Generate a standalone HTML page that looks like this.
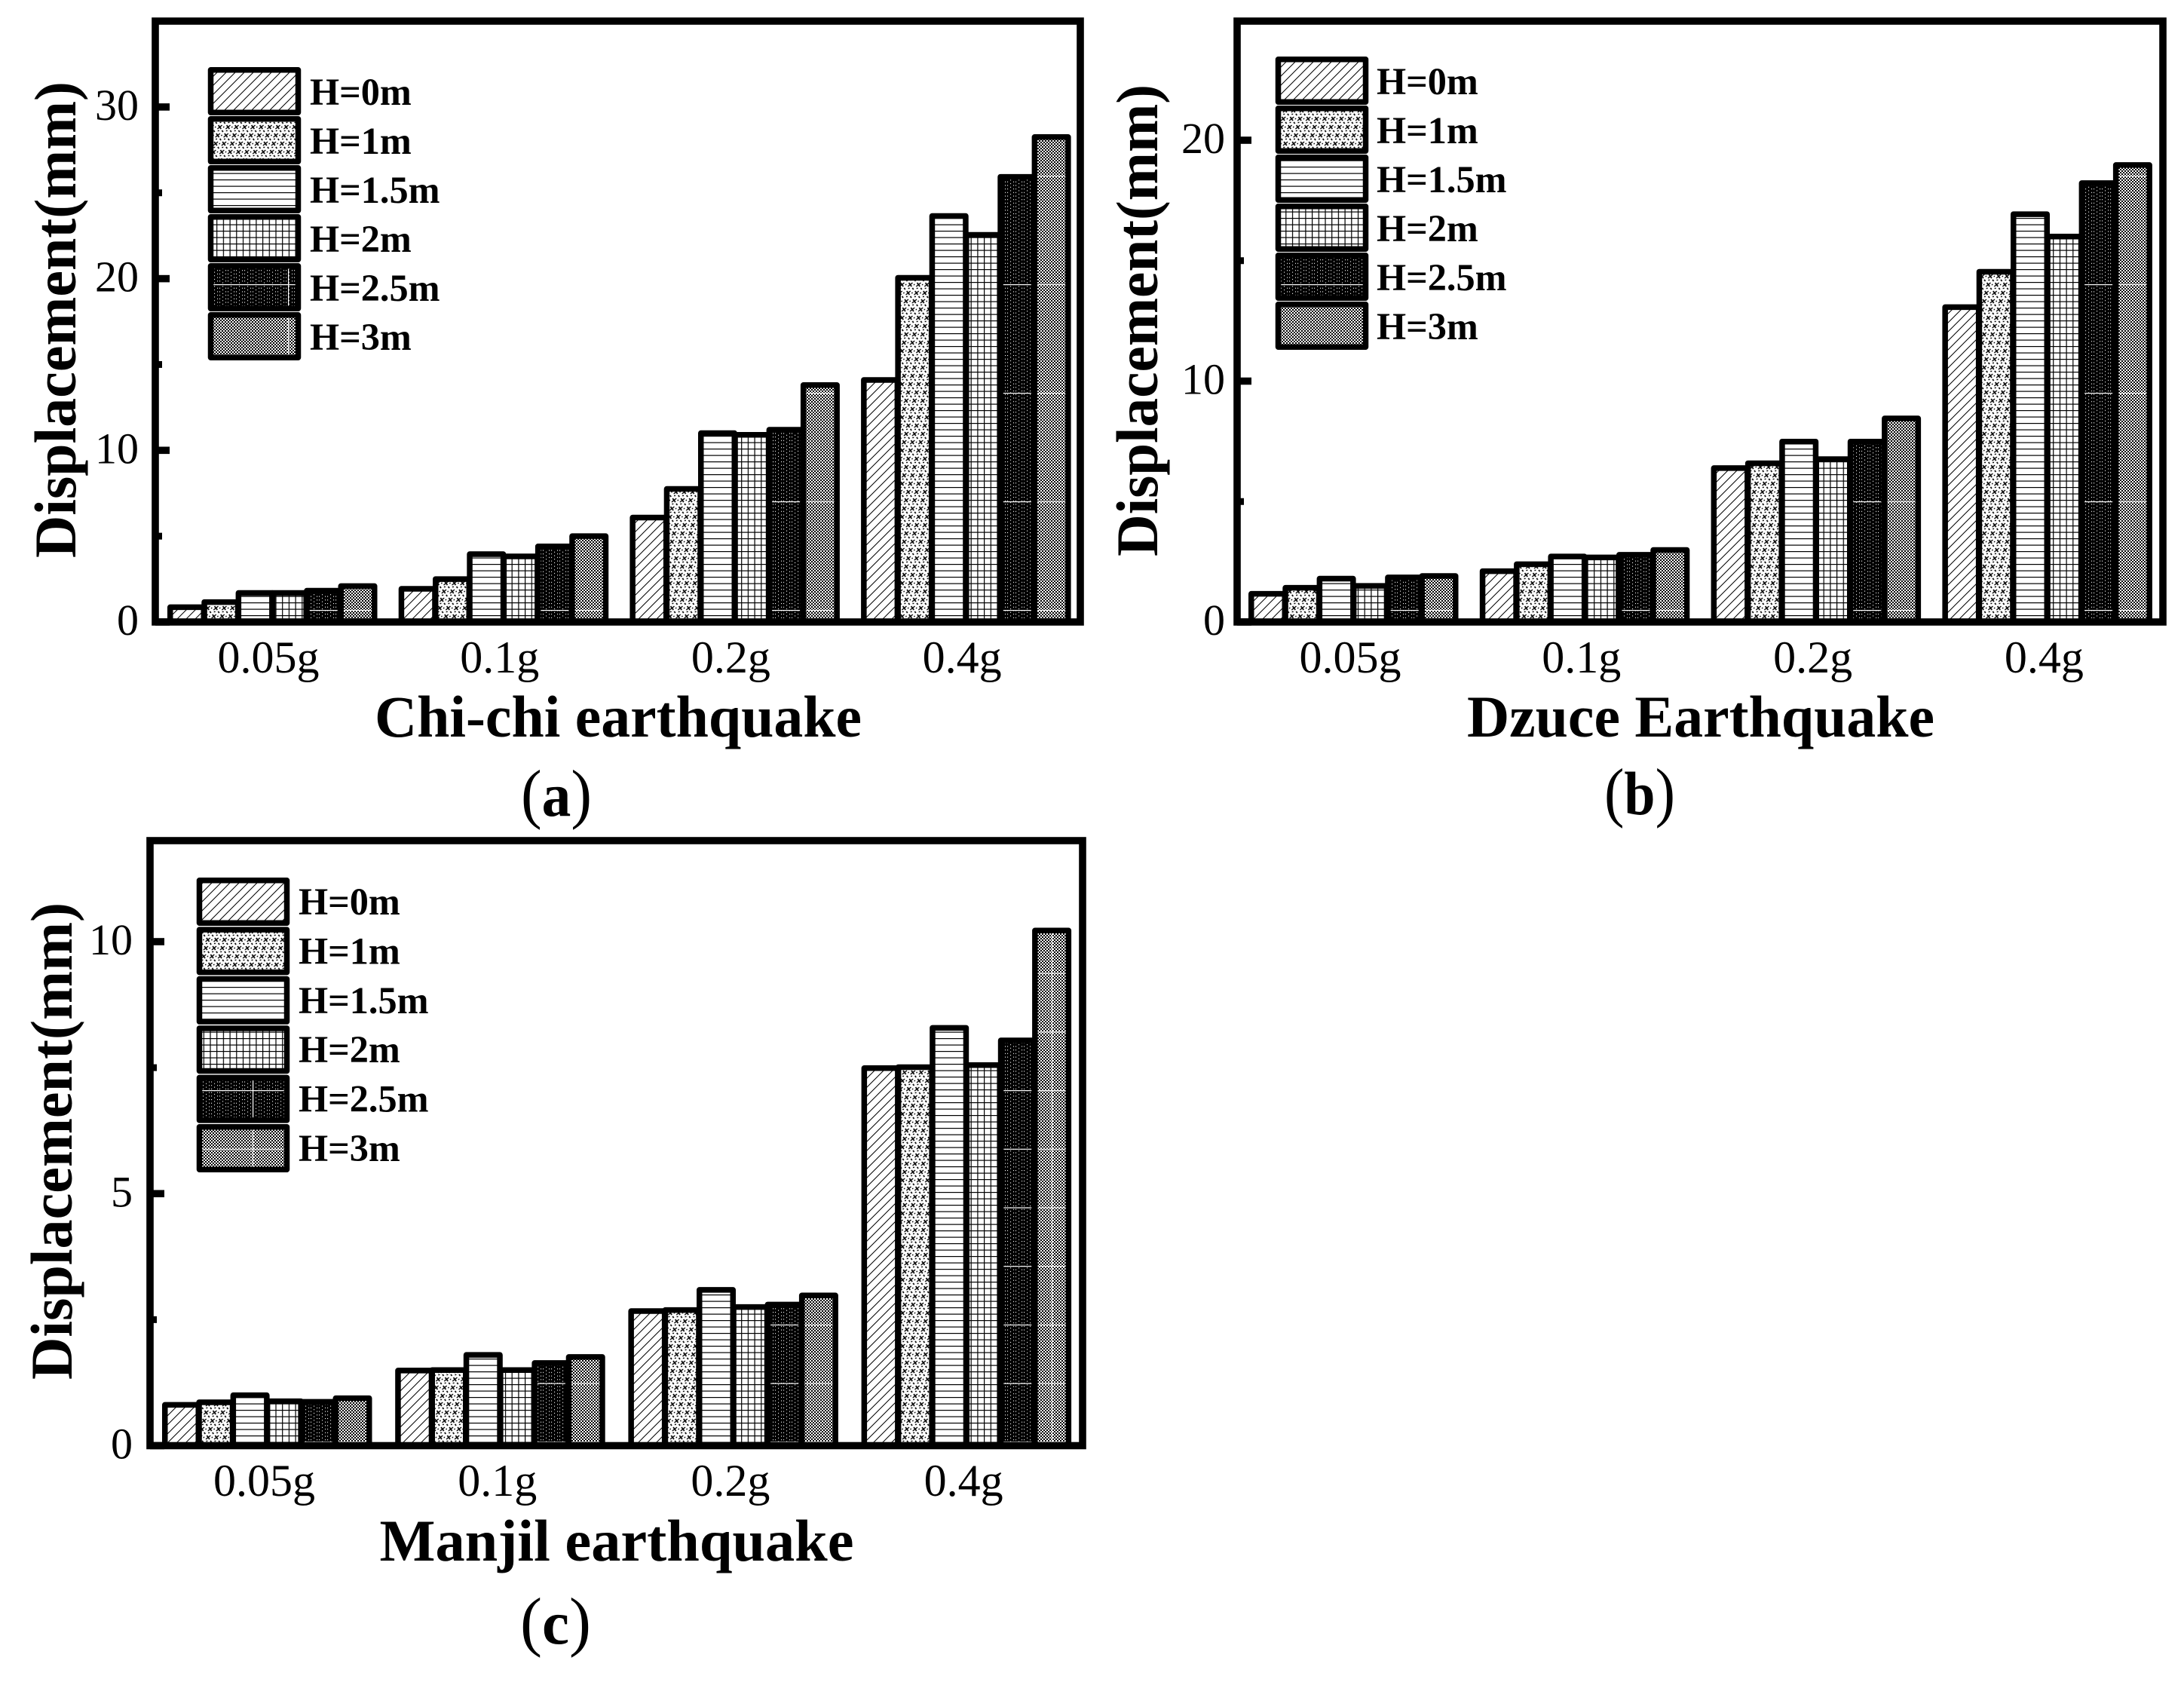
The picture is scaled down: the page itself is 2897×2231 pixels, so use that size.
<!DOCTYPE html>
<html lang="en">
<head>
<meta charset="utf-8">
<title>Displacement under earthquakes</title>
<style>
html,body{margin:0;padding:0;background:#fff;}
svg{display:block;font-family:"Liberation Serif",serif;}
</style>
</head>
<body>
<svg id="fig" xmlns="http://www.w3.org/2000/svg" width="2897" height="2231" viewBox="0 0 2897 2231">
<rect x="0" y="0" width="2897" height="2231" fill="#fff"/>
<defs>
<pattern id="p-diag" patternUnits="userSpaceOnUse" width="12" height="12"><path d="M-3 3L3 -3M0 12L12 0M9 15L15 9" stroke="#000" stroke-width="1" fill="none"/></pattern>
<pattern id="p-dots" patternUnits="userSpaceOnUse" width="11" height="11" patternTransform="skewX(-14)"><rect width="11" height="11" fill="#fff"/><path d="M1 1L6 6M6 1L1 6M2 8.500L4 8.500M8 3.500L9.500 3.500M7.500 8L9.500 10" stroke="#000" stroke-width="1.500" fill="none"/></pattern>
<pattern id="p-hlines" patternUnits="userSpaceOnUse" width="10" height="8.5"><rect width="10" height="8.5" fill="#fff"/><rect y="0" width="10" height="1.2" fill="#000"/></pattern>
<pattern id="p-grid" patternUnits="userSpaceOnUse" width="8.7" height="8.5"><rect width="8.7" height="8.5" fill="#fff"/><rect y="0" width="8.7" height="1.2" fill="#000"/><rect x="0" width="1.2" height="8.5" fill="#000"/></pattern>
<pattern id="p-darkdots" patternUnits="userSpaceOnUse" width="11" height="9.4"><rect width="11" height="9.4" fill="#000"/><rect x="2" y="1" width="1.1" height="1.1" fill="#fff"/><rect x="2" y="5.7" width="1.1" height="1.1" fill="#fff"/><rect x="5" y="1" width="1.1" height="1.1" fill="#fff"/><rect x="5" y="5.7" width="1.1" height="1.1" fill="#fff"/><rect x="9" y="3.350" width="1.1" height="1.1" fill="#fff"/><rect x="9" y="8" width="1.1" height="1.1" fill="#fff"/></pattern>
<pattern id="p-checker" patternUnits="userSpaceOnUse" width="4" height="4"><rect width="4" height="4" fill="#fff"/><rect width="2" height="2" fill="#000"/><rect x="2" y="2" width="2" height="2" fill="#000"/></pattern>
<pattern id="w-a" patternUnits="userSpaceOnUse" x="382" y="89" width="3000" height="144"><rect x="0" y="0" width="3000" height="1.2" fill="#fff"/><rect x="0" y="0" width="1.2" height="144" fill="#fff"/></pattern>
<pattern id="w-b" patternUnits="userSpaceOnUse" x="0" y="89" width="3000" height="144"><rect x="0" y="0" width="3000" height="1.2" fill="#fff"/></pattern>
<pattern id="w-c" patternUnits="userSpaceOnUse" x="335" y="1446" width="1060" height="77.7"><rect x="0" y="0" width="1060" height="1.2" fill="#fff"/><rect x="0" y="0" width="1.2" height="77.7" fill="#fff"/></pattern>
</defs>
</svg>
<script>
const categories = ["0.05g", "0.1g", "0.2g", "0.4g"];
const heights = ["H=0m", "H=1m", "H=1.5m", "H=2m", "H=2.5m", "H=3m"];

const chichiH0 = [0.86, 1.93, 6.08, 14.1];
const chichiH1 = [1.16, 2.5, 7.75, 20.05];
const chichiH15 = [1.69, 3.95, 11.0, 23.65];
const chichiH2 = [1.69, 3.82, 10.9, 22.55];
const chichiH25 = [1.82, 4.4, 11.2, 25.93];
const chichiH3 = [2.09, 5.0, 13.8, 28.25];
const chichiMajorTicks = [0, 10, 20, 30];
const chichiMinorTicks = [5, 15, 25];

const dzuceH0 = [1.17, 2.11, 6.39, 13.07];
const dzuceH1 = [1.42, 2.4, 6.59, 14.54];
const dzuceH15 = [1.8, 2.72, 7.49, 16.93];
const dzuceH2 = [1.5, 2.68, 6.76, 16.0];
const dzuceH25 = [1.85, 2.79, 7.49, 18.22];
const dzuceH3 = [1.91, 2.99, 8.45, 18.97];
const dzuceMajorTicks = [0, 10, 20];
const dzuceMinorTicks = [5, 15];

const manjilH0 = [0.81, 1.49, 2.67, 7.49];
const manjilH1 = [0.86, 1.5, 2.69, 7.51];
const manjilH15 = [1.0, 1.8, 3.09, 8.29];
const manjilH2 = [0.88, 1.5, 2.75, 7.55];
const manjilH25 = [0.87, 1.64, 2.8, 8.04];
const manjilH3 = [0.94, 1.76, 2.98, 10.22];
const manjilMajorTicks = [0, 5, 10];
const manjilMinorTicks = [2.5, 7.5];

const hatchFills = ["p-diag", "p-dots", "p-hlines", "p-grid", "p-darkdots", "p-checker"];

const panels = [
  {key:"a", title:"Chi-chi earthquake", tag:"a", series:[chichiH0,chichiH1,chichiH15,chichiH2,chichiH25,chichiH3],
   major:chichiMajorTicks, minor:chichiMinorTicks, overlay:"w-a",
   left:206, right:1433, top:28, bottom:825, yUnit:22.77,
   groupStart:222, groupStep:306.7, labelOffset:134,
   legendX:276, legendY:89, legendStep:65, legendLabelX:411, legendBaseline:139,
   yLabelX:184, yTitleX:100, yTitleY:740, yTitleLen:632, xLabelY:892,
   titleX:820, titleY:977, titleLen:646, tagX:738, tagY:1082},
  {key:"b", title:"Dzuce Earthquake", tag:"b", series:[dzuceH0,dzuceH1,dzuceH15,dzuceH2,dzuceH25,dzuceH3],
   major:dzuceMajorTicks, minor:dzuceMinorTicks, overlay:"w-b",
   left:1641, right:2869, top:28, bottom:825, yUnit:31.95,
   groupStart:1656, groupStep:306.8, labelOffset:135,
   legendX:1692, legendY:75, legendStep:65, legendLabelX:1826, legendBaseline:125,
   yLabelX:1625, yTitleX:1535, yTitleY:738, yTitleLen:626, xLabelY:892,
   titleX:2256, titleY:977, titleLen:620, tagX:2175, tagY:1080},
  {key:"c", title:"Manjil earthquake", tag:"c", series:[manjilH0,manjilH1,manjilH15,manjilH2,manjilH25,manjilH3],
   major:manjilMajorTicks, minor:manjilMinorTicks, overlay:"w-c",
   left:199, right:1436, top:1115, bottom:1917.5, yUnit:66.85,
   groupStart:215, groupStep:309.2, labelOffset:135.5,
   legendX:261, legendY:1164, legendStep:65.4, legendLabelX:396, legendBaseline:1213,
   yLabelX:176, yTitleX:95, yTitleY:1830, yTitleLen:633, xLabelY:1984,
   titleX:818, titleY:2070, titleLen:629, tagX:737, tagY:2180}
];

const NS = "http://www.w3.org/2000/svg";
const svg = document.getElementById("fig");
const BAR_PITCH = 45.3;
const BAR_WIDTH = 52;
const BORDER = 7.5;

function make(tag, attrs, parent) {
  const el = document.createElementNS(NS, tag);
  for (const k in attrs) el.setAttribute(k, attrs[k]);
  parent.appendChild(el);
  return el;
}

function drawPanel(p) {
  const g = make("g", {}, svg);
  
  

  const yScale = function (v) { return p.bottom - v * p.yUnit; };
  const xScale = function (groupIndex, seriesIndex) { return p.groupStart + groupIndex * p.groupStep + seriesIndex * BAR_PITCH; };

  categories.forEach(function (cat, gi) {
    p.series.forEach(function (values, si) {
      const x = xScale(gi, si) + BORDER / 2;
      const y = yScale(values[gi]);
      const w = BAR_WIDTH - BORDER;
      const h = p.bottom - y;
      const bar = make("rect", {x:x, y:y, width:w, height:h, fill:"url(#" + hatchFills[si] + ")", stroke:"none"}, g);
      
      
      if (si >= 4) {
        const shine = make("rect", {x:x, y:y, width:w, height:h, fill:"url(#" + p.overlay + ")", stroke:"none"}, g);
        
        
      }
      const edge = make("rect", {x:x, y:y, width:w, height:h, fill:"none", stroke:"#000", "stroke-width":BORDER, "stroke-linejoin":"round"}, g);
      
      
    });
    const label = make("text", {x:p.groupStart + gi * p.groupStep + p.labelOffset, y:p.xLabelY, "font-size":60, "text-anchor":"middle", fill:"#000"}, g);
    label.textContent = cat;
    
    
  });

  const frame = make("rect", {x:p.left, y:p.top, width:p.right - p.left, height:p.bottom - p.top, fill:"none", stroke:"#000", "stroke-width":9.6}, g);
  
  

  p.major.forEach(function (v) {
    const y = yScale(v);
    const tick = make("rect", {x:p.left, y:y - 4.8, width:19, height:9.6, fill:"#000"}, g);
    
    
    const label = make("text", {x:p.yLabelX, y:y + 17, "font-size":58, "text-anchor":"end", fill:"#000"}, g);
    label.textContent = String(v);
    
    
  });
  p.minor.forEach(function (v) {
    const tick = make("rect", {x:p.left, y:yScale(v) - 4.5, width:9, height:9, fill:"#000"}, g);
    
    
  });

  heights.forEach(function (name, i) {
    const y = p.legendY + i * p.legendStep;
    const swatch = make("rect", {x:p.legendX + 3.5, y:y + 3.75, width:116, height:56.5, fill:"url(#" + hatchFills[i] + ")", stroke:"none"}, g);
    
    
    if (i >= 4) {
      const shine = make("rect", {x:p.legendX + 3.5, y:y + 3.75, width:116, height:56.5, fill:"url(#" + p.overlay + ")", stroke:"none"}, g);
      
      
    }
    const edge = make("rect", {x:p.legendX + 3.5, y:y + 3.75, width:116, height:56.5, fill:"none", stroke:"#000", "stroke-width":7.5, "stroke-linejoin":"round"}, g);
    
    
    const text = make("text", {x:p.legendLabelX, y:p.legendBaseline + i * p.legendStep, "font-size":50.3, "font-weight":"bold", fill:"#000"}, g);
    text.textContent = name;
    
    
  });

  const yTitle = make("text", {transform:"translate(" + p.yTitleX + "," + p.yTitleY + ") rotate(-90)", "font-size":78, "font-weight":"bold", fill:"#000", textLength:p.yTitleLen, lengthAdjust:"spacingAndGlyphs"}, g);
  yTitle.textContent = "Displacement(mm)";
  
  

  const xTitle = make("text", {x:p.titleX, y:p.titleY, "font-size":78, "font-weight":"bold", "text-anchor":"middle", fill:"#000", textLength:p.titleLen, lengthAdjust:"spacingAndGlyphs"}, g);
  xTitle.textContent = p.title;
  
  

  const tag = make("text", {x:p.tagX, y:p.tagY, "font-size":88, "text-anchor":"middle", fill:"#000", textLength:94, lengthAdjust:"spacingAndGlyphs"}, g);
  
  
  tag.appendChild(document.createTextNode("("));
  const letter = make("tspan", {"font-weight":"bold", "font-size":82}, tag);
  letter.textContent = p.tag;
  tag.appendChild(document.createTextNode(")"));
}

panels.forEach(drawPanel);
</script>
</body>
</html>
